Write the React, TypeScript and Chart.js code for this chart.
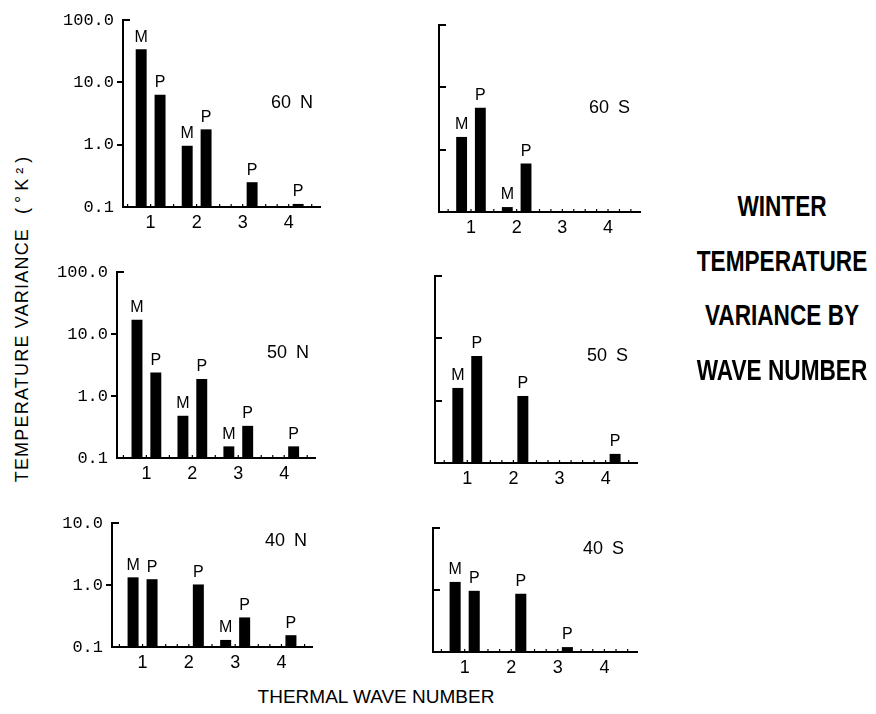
import React, { useEffect, useRef } from "react";
import { Chart, registerables } from "chart.js";

Chart.register(...registerables);

// ---------- data ----------
const waveNumbers = [1, 2, 3, 4];
const xTickLabels = ["1", "2", "3", "4"];
const yTickValues = [0.1, 1, 10, 100];
const yTickLabels = ["0.1", "1.0", "10.0", "100.0"];
const seriesNames = ["M", "P"];

const panelNames = ["60 N", "60 S", "50 N", "50 S", "40 N", "40 S"];
const yMaxByPanel = [100, 100, 100, 100, 10, 10];

const m60N = [34, 0.96, null, null];
const p60N = [6.3, 1.76, 0.25, 0.112];
const m60S = [1.6, 0.12, null, null];
const p60S = [4.7, 0.6, null, null];
const m50N = [17, 0.48, 0.154, null];
const p50N = [2.4, 1.88, 0.33, 0.154];
const m50S = [1.6, null, null, null];
const p50S = [5.2, 1.19, null, 0.14];
const m40N = [1.33, null, 0.13, null];
const p40N = [1.24, 1.02, 0.3, 0.155];
const m40S = [1.35, null, null, null];
const p40S = [0.97, 0.87, 0.12, null];

const mSeries = [m60N, m60S, m50N, m50S, m40N, m40S];
const pSeries = [p60N, p60S, p50N, p50S, p40N, p40S];

const titleLines = ["WINTER", "TEMPERATURE", "VARIANCE BY", "WAVE NUMBER"];
const yTitle = "TEMPERATURE VARIANCE";
const yUnit = "(°K²)";
const xTitle = "THERMAL WAVE NUMBER";

// ---------- layout (page pixels) ----------
const LAYOUT = [
  { side: "left", axisX: 123, axisRight: 320, top: 20, bottom: 207, xMin: 0.4, xMax: 4.68, labelRight: 313, labelY: 102 },
  { side: "right", axisX: 439, axisRight: 640, top: 25, bottom: 212, xMin: 0.3, xMax: 4.7, labelRight: 630, labelY: 107 },
  { side: "left", axisX: 117, axisRight: 315, top: 272, bottom: 458, xMin: 0.36, xMax: 4.67, labelRight: 309, labelY: 352 },
  { side: "right", axisX: 435, axisRight: 637, top: 276, bottom: 463, xMin: 0.3, xMax: 4.68, labelRight: 628, labelY: 355 },
  { side: "left", axisX: 112, axisRight: 312, top: 523, bottom: 647, xMin: 0.34, xMax: 4.66, labelRight: 307, labelY: 540 },
  { side: "right", axisX: 433, axisRight: 637, top: 528, bottom: 652, xMin: 0.32, xMax: 4.7, labelRight: 624, labelY: 548 },
];

const SANS = "'Liberation Sans', Arial, sans-serif";
const MONO = "'Liberation Mono', 'DejaVu Sans Mono', monospace";

const barLabels = {
  id: "barLabels",
  afterDatasetsDraw(chart: any) {
    const ctx = chart.ctx;
    ctx.save();
    ctx.fillStyle = "#000";
    ctx.font = `16px ${SANS}`;
    ctx.textAlign = "center";
    ctx.textBaseline = "bottom";
    chart.data.datasets.forEach((ds: any, i: number) => {
      const meta = chart.getDatasetMeta(i);
      meta.data.forEach((el: any, j: number) => {
        const v = ds.data[j];
        if (v === null || v === undefined) return;
        ctx.fillText(ds.label, el.x, el.y - 4);
      });
    });
    ctx.restore();
  },
};

const axisTicks = {
  id: "axisTicks",
  afterDraw(chart: any, _args: any, opts: any) {
    const ctx = chart.ctx;
    const y = chart.scales.y;
    const x0 = chart.chartArea.left;
    ctx.save();
    ctx.strokeStyle = "#000";
    ctx.lineWidth = 2;
    y.ticks.forEach((t: any) => {
      if (t.value === y.min) return;
      const py = Math.round(y.getPixelForValue(t.value));
      const isTop = t.value === y.max;
      ctx.beginPath();
      if (opts.side === "left" && !isTop) {
        ctx.moveTo(x0 - 6, py);
        ctx.lineTo(x0, py);
      } else {
        ctx.moveTo(x0 - 1, py);
        ctx.lineTo(x0 + 7, py);
      }
      ctx.stroke();
    });
    const xs = chart.scales.x;
    const yb = chart.chartArea.bottom;
    ctx.lineWidth = 1.2;
    for (let v = 0.5; v <= xs.max; v += 0.25) {
      const px = xs.getPixelForValue(v);
      if (px <= x0 + 2) continue;
      ctx.beginPath();
      ctx.moveTo(px, yb);
      ctx.lineTo(px, yb - 3);
      ctx.stroke();
    }
    ctx.restore();
  },
};

function Panel({ idx }: { idx: number }) {
  const ref = useRef<HTMLCanvasElement>(null);
  const L = LAYOUT[idx];
  const left = Math.round(L.axisX - (L.side === "left" ? 70 : 16));
  const top = Math.round(L.top - 22);
  const right = Math.round(L.axisRight + 8);
  const bottomEdge = Math.round(L.bottom + 32);
  const width = right - left;
  const height = bottomEdge - top;
  const yAxisW = L.axisX - left;
  const padTop = L.top - top;
  const padRight = right - L.axisRight;
  const xAxisH = bottomEdge - L.bottom;

  useEffect(() => {
    const canvas = ref.current!;
    const yMax = yMaxByPanel[idx];
    const chart = new Chart(canvas, {
      type: "bar",
      data: {
        labels: waveNumbers,
        datasets: [
          {
            label: seriesNames[0],
            data: mSeries[idx],
            backgroundColor: "#000",
            borderWidth: 0,
            barPercentage: 0.58,
            categoryPercentage: 0.82,
          },
          {
            label: seriesNames[1],
            data: pSeries[idx],
            backgroundColor: "#000",
            borderWidth: 0,
            barPercentage: 0.58,
            categoryPercentage: 0.82,
          },
        ],
      } as any,
      options: {
        responsive: false,
        animation: false,
        devicePixelRatio: 1,
        layout: { padding: { top: padTop, right: padRight, left: 0, bottom: 0 } },
        plugins: {
          legend: { display: false },
          tooltip: { enabled: false },
          title: { display: false },
          axisTicks: { side: L.side },
        } as any,
        scales: {
          x: {
            type: "linear",
            offset: false,
            min: L.xMin,
            max: L.xMax,
            grid: { display: false, drawTicks: false },
            border: { display: true, color: "#000", width: 2 },
            afterBuildTicks: (s: any) => {
              s.ticks = waveNumbers.map((v) => ({ value: v }));
            },
            afterFit: (s: any) => {
              s.height = xAxisH;
            },
            ticks: {
              color: "#000",
              padding: 5,
              autoSkip: false,
              maxRotation: 0,
              font: { family: SANS, size: 18 },
              callback: (v: any) => xTickLabels[waveNumbers.indexOf(Number(v))] ?? "",
            },
          },
          y: {
            type: "logarithmic",
            min: 0.1,
            max: yMax,
            grid: { display: false, drawTicks: false },
            border: { display: true, color: "#000", width: 2 },
            afterBuildTicks: (s: any) => {
              s.ticks = yTickValues.filter((v) => v <= yMax).map((v) => ({ value: v }));
            },
            afterFit: (s: any) => {
              s.width = yAxisW;
            },
            ticks: {
              display: L.side === "left",
              color: "#000",
              padding: 9,
              autoSkip: false,
              font: { family: MONO, size: 17 },
              callback: (v: any) => {
                const k = yTickValues.findIndex((t) => Math.abs(t - Number(v)) < 1e-9);
                return k >= 0 ? yTickLabels[k] : "";
              },
            },
          },
        } as any,
      },
      plugins: [barLabels, axisTicks],
    });
    return () => chart.destroy();
  }, [idx]);

  return (
    <>
      <canvas
        ref={ref}
        width={width}
        height={height}
        style={{ position: "absolute", left, top, width, height }}
      />
      <div
        style={{
          position: "absolute",
          left: L.labelRight,
          top: L.labelY,
          transform: "translate(-100%, -50%)",
          font: `18px ${SANS}`,
          color: "#000",
          whiteSpace: "pre",
          wordSpacing: "4px",
        }}
      >
        {panelNames[idx]}
      </div>
    </>
  );
}

export default function App() {
  const titleYs = [206, 261, 315, 370];
  return (
    <div
      style={{
        position: "absolute",
        left: 0,
        top: 0,
        width: 876,
        height: 714,
        background: "#fff",
        overflow: "hidden",
      }}
    >
      {LAYOUT.map((_, i) => (
        <Panel key={i} idx={i} />
      ))}
      <div
        style={{
          position: "absolute",
          left: 22,
          top: 317,
          transform: "translate(-50%, -50%) rotate(-90deg)",
          font: `18px ${SANS}`,
          letterSpacing: "1.2px",
          whiteSpace: "nowrap",
          color: "#000",
        }}
      >
        {yTitle}
        <span style={{ marginLeft: 14, letterSpacing: "5px" }}>{yUnit}</span>
      </div>
      <div
        style={{
          position: "absolute",
          left: 376,
          top: 697,
          transform: "translate(-50%, -50%)",
          font: `19px ${SANS}`,
          whiteSpace: "nowrap",
          color: "#000",
        }}
      >
        {xTitle}
      </div>
      {titleLines.map((t, i) => (
        <div
          key={t}
          style={{
            position: "absolute",
            left: 782,
            top: titleYs[i],
            transform: "translate(-50%, -50%) scaleX(0.78)",
            font: `bold 29px ${SANS}`,
            whiteSpace: "nowrap",
            color: "#000",
          }}
        >
          {t}
        </div>
      ))}
    </div>
  );
}
